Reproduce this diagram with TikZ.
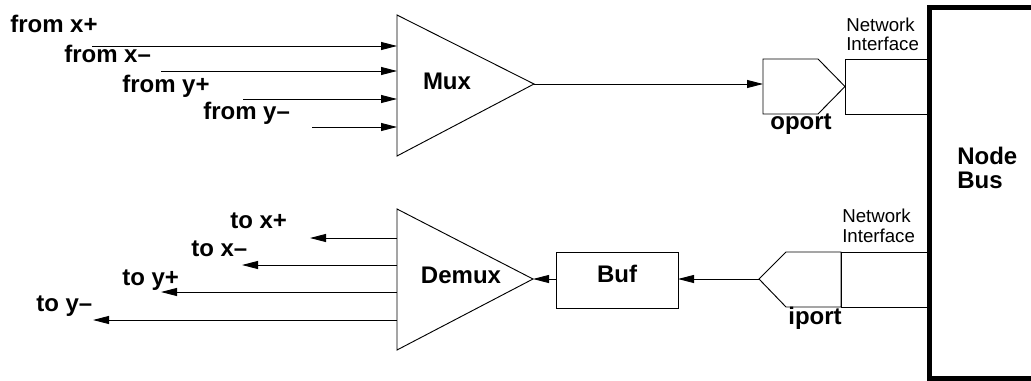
\documentclass[tikz,border=0pt]{standalone}
\usepackage{fontspec}
\setmainfont{Liberation Sans}
\usetikzlibrary{arrows.meta}
\begin{document}
\begin{tikzpicture}[x=0.75pt,y=-0.75pt,
  thin line/.style={line width=0.7pt},
  arr/.style={thin line,-{Triangle[length=12pt,width=6pt]}},
  blabel/.style={inner sep=0pt,font=\fontsize{18}{18}\selectfont\bfseries},
  nilabel/.style={inner sep=0pt,align=left,font=\fontsize{14}{14.5}\selectfont},
  block/.style={draw,thin line}]
\useasboundingbox (0,0) rectangle (1031,381);
% Mux
\coordinate (muxT) at (397,15);
\coordinate (muxB) at (397,156);
\coordinate (muxA) at (534,84);
\draw[thin line] (muxT) -- (muxA) -- (muxB) -- cycle;
\node[blabel] (mux) at (447,81) {Mux};
% inputs
\node[blabel,anchor=base west] (fxp) at (10,33) {from x+};
\node[blabel,anchor=base west] (fxm) at (64,63) {from x--};
\node[blabel,anchor=base west] (fyp) at (122,93) {from y+};
\node[blabel,anchor=base west] (fym) at (203,120) {from y--};
\coordinate (i1s) at (92,46);  \coordinate (i1e) at (397,46);
\coordinate (i2s) at (161,71); \coordinate (i2e) at (397,71);
\coordinate (i3s) at (243,99); \coordinate (i3e) at (397,99);
\coordinate (i4s) at (312,127);\coordinate (i4e) at (397,127);
\draw[arr] (i1s) -- (i1e);
\draw[arr] (i2s) -- (i2e);
\draw[arr] (i3s) -- (i3e);
\draw[arr] (i4s) -- (i4e);
% oport
\coordinate (opL) at (763,84);
\draw[block] (763,59) -- (818,59) -- (845,86.5) -- (818,114) -- (763,114) -- cycle;
\draw[arr] (muxA) -- (opL);
\node[blabel,anchor=base] (oport) at (801,130) {oport};
% top network interface
\draw[block] (845,59) rectangle (929,114);
\node[nilabel,anchor=base west] (ni1) at (846,51) {Network\\Interface};
% node bus
\draw[line width=3.75pt] (1031,7.5) -- (929.5,7.5) -- (929.5,378) -- (1031,378);
\node[blabel,anchor=base west,align=left,font=\fontsize{18}{18}\selectfont\bfseries] (bus) at (957,189) {Node\\Bus};
% iport
\coordinate (ipP) at (759,279);
\draw[block] (786,252) -- (841,252) -- (841,307) -- (786,307) -- (ipP) -- cycle;
\draw[block] (841,252) rectangle (929,307);
\node[blabel,anchor=base] (iport) at (815,324) {iport};
\node[nilabel,anchor=base west] (ni2) at (842,242) {Network\\Interface};
% Buf
\draw[block] (556,252) rectangle (678,308);
\coordinate (bufR) at (678,279);
\coordinate (bufL) at (556,279);
\node[blabel] (buf) at (617,273.5) {Buf};
\draw[arr] (ipP) -- (bufR);
% Demux
\coordinate (dmT) at (397,209);
\coordinate (dmB) at (397,350);
\coordinate (dmA) at (533,279);
\draw[thin line] (dmT) -- (dmA) -- (dmB) -- cycle;
\draw[arr] (bufL) -- (dmA);
\node[blabel] (demux) at (461,275) {Demux};
% outputs
\coordinate (o1s) at (397,238); \coordinate (o1e) at (310,238);
\coordinate (o2s) at (397,265); \coordinate (o2e) at (242,265);
\coordinate (o3s) at (397,292); \coordinate (o3e) at (161,292);
\coordinate (o4s) at (397,320); \coordinate (o4e) at (93,320);
\draw[arr] (o1s) -- (o1e);
\draw[arr] (o2s) -- (o2e);
\draw[arr] (o3s) -- (o3e);
\draw[arr] (o4s) -- (o4e);
\node[blabel,anchor=base west] (txp) at (230,228) {to x+};
\node[blabel,anchor=base west] (txm) at (191,256) {to x--};
\node[blabel,anchor=base west] (typ) at (122,285) {to y+};
\node[blabel,anchor=base west] (tym) at (36,311) {to y--};
\end{tikzpicture}
\end{document}
